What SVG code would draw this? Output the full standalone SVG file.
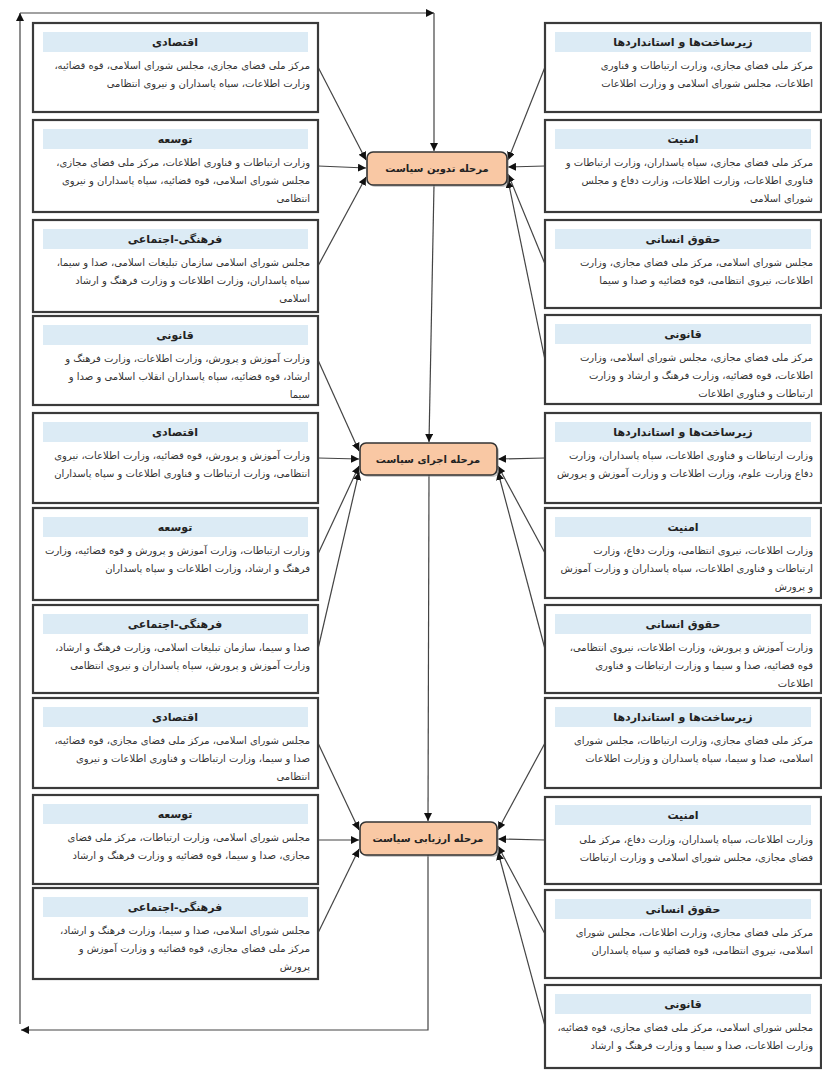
<svg xmlns="http://www.w3.org/2000/svg" width="822" height="1072" viewBox="0 0 822 1072">
<style>
.box{fill:#fff;stroke:#3a3a3a;stroke-width:2.2}
.tb{fill:#dcebf5}
.tt{font-family:"DejaVu Sans",sans-serif;font-size:11px;font-weight:bold;text-anchor:middle;fill:#222}
.bt{font-family:"DejaVu Sans",sans-serif;font-size:10px;fill:#333;direction:rtl;text-anchor:start}
.node{fill:#f9c8a4;stroke:#333;stroke-width:1.6}
.nsh{fill:#999;opacity:.5}
.nt{font-family:"DejaVu Sans",sans-serif;font-size:10px;font-weight:bold;text-anchor:middle;fill:#222;direction:rtl}
.c{stroke:#444;stroke-width:1.2;fill:none;marker-end:url(#ah)}
</style>
<defs>
<marker id="ah" viewBox="0 0 10 10" refX="10" refY="5" markerWidth="8" markerHeight="8" markerUnits="userSpaceOnUse" orient="auto"><path d="M0,0 L10,5 L0,10 z" fill="#111"/></marker>
</defs>

<g id="connectors">
<path class="c" d="M318,67 L366,160"/>
<path class="c" d="M318,166 L366,168"/>
<path class="c" d="M318,266 L366,177"/>
<path class="c" d="M545,67 L508,160"/>
<path class="c" d="M545,166 L508,167"/>
<path class="c" d="M545,264 L508,174"/>
<path class="c" d="M545,360 L508,180"/>
<path class="c" d="M318,360 L359,451"/>
<path class="c" d="M318,458 L359,459"/>
<path class="c" d="M318,554 L359,466"/>
<path class="c" d="M318,649 L359,472"/>
<path class="c" d="M545,458 L498,459"/>
<path class="c" d="M545,553 L498,466"/>
<path class="c" d="M545,649 L498,472"/>
<path class="c" d="M318,743 L359,830"/>
<path class="c" d="M318,840 L359,840"/>
<path class="c" d="M318,933 L359,849"/>
<path class="c" d="M545,743 L498,830"/>
<path class="c" d="M545,840 L498,839"/>
<path class="c" d="M545,934 L498,846"/>
<path class="c" d="M545,1026 L498,852"/>
<path class="c" d="M434,185 L429,442"/>
<path class="c" d="M429,475 L428,821"/>
<path class="c" d="M428,855 L428,1030 L21,1030"/>
<path class="c" d="M20,1024 L20,13"/>
<path class="c" d="M20,13 L434,13"/>
<path class="c" d="M434,13 L434,151"/>
</g>

<g id="N1"><rect class="nsh" x="369" y="154" width="140" height="33" rx="6"/><rect class="node" x="367" y="152" width="140" height="33" rx="6"/><text class="nt" x="437" y="172">مرحله تدوین سیاست</text></g>
<g id="N2"><rect class="nsh" x="362" y="445" width="137" height="32" rx="6"/><rect class="node" x="360" y="443" width="137" height="32" rx="6"/><text class="nt" x="428" y="463">مرحله اجرای سیاست</text></g>
<g id="N3"><rect class="nsh" x="362" y="824" width="137" height="33" rx="6"/><rect class="node" x="360" y="822" width="137" height="33" rx="6"/><text class="nt" x="428" y="842">مرحله ارزیابی سیاست</text></g>

<g id="L1"><rect class="box" x="33" y="23" width="285" height="89"/><rect class="tb" x="43" y="32" width="265" height="20"/><text class="tt" x="175" y="46">اقتصادی</text>
<text class="bt" x="310" y="69">مرکز ملی فضای مجازی، مجلس شورای اسلامی، قوه قضائیه،</text>
<text class="bt" x="310" y="87">وزارت اطلاعات، سپاه پاسداران و نیروی انتظامی</text></g>

<g id="L2"><rect class="box" x="33" y="120" width="285" height="92"/><rect class="tb" x="43" y="129" width="265" height="20"/><text class="tt" x="175" y="143">توسعه</text>
<text class="bt" x="310" y="166">وزارت ارتباطات و فناوری اطلاعات، مرکز ملی فضای مجازی،</text>
<text class="bt" x="310" y="184">مجلس شورای اسلامی، قوه قضائیه، سپاه پاسداران و نیروی</text>
<text class="bt" x="310" y="202">انتظامی</text></g>

<g id="L3"><rect class="box" x="33" y="220" width="285" height="92"/><rect class="tb" x="43" y="229" width="265" height="20"/><text class="tt" x="175" y="243">فرهنگی-اجتماعی</text>
<text class="bt" x="310" y="266">مجلس شورای اسلامی سازمان تبلیغات اسلامی، صدا و سیما،</text>
<text class="bt" x="310" y="284">سپاه پاسداران، وزارت اطلاعات و وزارت فرهنگ و ارشاد</text>
<text class="bt" x="310" y="302">اسلامی</text></g>

<g id="L4"><rect class="box" x="33" y="316" width="285" height="89"/><rect class="tb" x="43" y="325" width="265" height="20"/><text class="tt" x="175" y="339">قانونی</text>
<text class="bt" x="310" y="362">وزارت آموزش و پرورش، وزارت اطلاعات، وزارت فرهنگ و</text>
<text class="bt" x="310" y="380">ارشاد، قوه قضائیه، سپاه پاسداران انقلاب اسلامی و صدا و</text>
<text class="bt" x="310" y="398">سیما</text></g>

<g id="L5"><rect class="box" x="33" y="413" width="285" height="90"/><rect class="tb" x="43" y="422" width="265" height="20"/><text class="tt" x="175" y="436">اقتصادی</text>
<text class="bt" x="310" y="459">وزارت آموزش و پرورش، قوه قضائیه، وزارت اطلاعات، نیروی</text>
<text class="bt" x="310" y="477">انتظامی، وزارت ارتباطات و فناوری اطلاعات و سپاه پاسداران</text></g>

<g id="L6"><rect class="box" x="33" y="508" width="285" height="92"/><rect class="tb" x="43" y="517" width="265" height="20"/><text class="tt" x="175" y="531">توسعه</text>
<text class="bt" x="310" y="554">وزارت ارتباطات، وزارت آموزش و پرورش و قوه قضائیه، وزارت</text>
<text class="bt" x="310" y="572">فرهنگ و ارشاد، وزارت اطلاعات و سپاه پاسداران</text></g>

<g id="L7"><rect class="box" x="33" y="605" width="285" height="88"/><rect class="tb" x="43" y="614" width="265" height="20"/><text class="tt" x="175" y="628">فرهنگی-اجتماعی</text>
<text class="bt" x="310" y="651">صدا و سیما، سازمان تبلیغات اسلامی، وزارت فرهنگ و ارشاد،</text>
<text class="bt" x="310" y="669">وزارت آموزش و پرورش، سپاه پاسداران و نیروی انتظامی</text></g>

<g id="L8"><rect class="box" x="33" y="698" width="285" height="90"/><rect class="tb" x="43" y="707" width="265" height="20"/><text class="tt" x="175" y="721">اقتصادی</text>
<text class="bt" x="310" y="744">مجلس شورای اسلامی، مرکز ملی فضای مجازی، قوه قضائیه،</text>
<text class="bt" x="310" y="762">صدا و سیما، وزارت ارتباطات و فناوری اطلاعات و نیروی</text>
<text class="bt" x="310" y="780">انتظامی</text></g>

<g id="L9"><rect class="box" x="33" y="795" width="285" height="89"/><rect class="tb" x="43" y="804" width="265" height="20"/><text class="tt" x="175" y="818">توسعه</text>
<text class="bt" x="310" y="841">مجلس شورای اسلامی، وزارت ارتباطات، مرکز ملی فضای</text>
<text class="bt" x="310" y="859">مجازی، صدا و سیما، قوه قضائیه و وزارت فرهنگ و ارشاد</text></g>

<g id="L10"><rect class="box" x="33" y="888" width="285" height="91"/><rect class="tb" x="43" y="897" width="265" height="20"/><text class="tt" x="175" y="911">فرهنگی-اجتماعی</text>
<text class="bt" x="310" y="934">مجلس شورای اسلامی، صدا و سیما، وزارت فرهنگ و ارشاد،</text>
<text class="bt" x="310" y="952">مرکز ملی فضای مجازی، قوه قضائیه و وزارت آموزش و</text>
<text class="bt" x="310" y="970">پرورش</text></g>

<g id="R1"><rect class="box" x="545" y="23" width="276" height="89"/><rect class="tb" x="555" y="32" width="256" height="20"/><text class="tt" x="683" y="46">زیرساخت‌ها و استانداردها</text>
<text class="bt" x="813" y="69">مرکز ملی فضای مجازی، وزارت ارتباطات و فناوری</text>
<text class="bt" x="813" y="87">اطلاعات، مجلس شورای اسلامی و وزارت اطلاعات</text></g>

<g id="R2"><rect class="box" x="545" y="120" width="276" height="92"/><rect class="tb" x="555" y="129" width="256" height="20"/><text class="tt" x="683" y="143">امنیت</text>
<text class="bt" x="813" y="166">مرکز ملی فضای مجازی، سپاه پاسداران، وزارت ارتباطات و</text>
<text class="bt" x="813" y="184">فناوری اطلاعات، وزارت اطلاعات، وزارت دفاع و مجلس</text>
<text class="bt" x="813" y="202">شورای اسلامی</text></g>

<g id="R3"><rect class="box" x="545" y="220" width="276" height="88"/><rect class="tb" x="555" y="229" width="256" height="20"/><text class="tt" x="683" y="243">حقوق انسانی</text>
<text class="bt" x="813" y="266">مجلس شورای اسلامی، مرکز ملی فضای مجازی، وزارت</text>
<text class="bt" x="813" y="284">اطلاعات، نیروی انتظامی، قوه قضائیه و صدا و سیما</text></g>

<g id="R4"><rect class="box" x="545" y="315" width="276" height="89"/><rect class="tb" x="555" y="324" width="256" height="20"/><text class="tt" x="683" y="338">قانونی</text>
<text class="bt" x="813" y="361">مرکز ملی فضای مجازی، مجلس شورای اسلامی، وزارت</text>
<text class="bt" x="813" y="379">اطلاعات، قوه قضائیه، وزارت فرهنگ و ارشاد و وزارت</text>
<text class="bt" x="813" y="397">ارتباطات و فناوری اطلاعات</text></g>

<g id="R5"><rect class="box" x="545" y="413" width="276" height="90"/><rect class="tb" x="555" y="422" width="256" height="20"/><text class="tt" x="683" y="436">زیرساخت‌ها و استانداردها</text>
<text class="bt" x="813" y="459">وزارت ارتباطات و فناوری اطلاعات، سپاه پاسداران، وزارت</text>
<text class="bt" x="813" y="477">دفاع وزارت علوم، وزارت اطلاعات و وزارت آموزش و پرورش</text></g>

<g id="R6"><rect class="box" x="545" y="508" width="276" height="90"/><rect class="tb" x="555" y="517" width="256" height="20"/><text class="tt" x="683" y="531">امنیت</text>
<text class="bt" x="813" y="554">وزارت اطلاعات، نیروی انتظامی، وزارت دفاع، وزارت</text>
<text class="bt" x="813" y="572">ارتباطات و فناوری اطلاعات، سپاه پاسداران و وزارت آموزش</text>
<text class="bt" x="813" y="590">و پرورش</text></g>

<g id="R7"><rect class="box" x="545" y="605" width="276" height="88"/><rect class="tb" x="555" y="614" width="256" height="20"/><text class="tt" x="683" y="628">حقوق انسانی</text>
<text class="bt" x="813" y="651">وزارت آموزش و پرورش، وزارت اطلاعات، نیروی انتظامی،</text>
<text class="bt" x="813" y="669">قوه قضائیه، صدا و سیما و وزارت ارتباطات و فناوری</text>
<text class="bt" x="813" y="687">اطلاعات</text></g>

<g id="R8"><rect class="box" x="545" y="698" width="276" height="90"/><rect class="tb" x="555" y="707" width="256" height="20"/><text class="tt" x="683" y="721">زیرساخت‌ها و استانداردها</text>
<text class="bt" x="813" y="744">مرکز ملی فضای مجازی، وزارت ارتباطات، مجلس شورای</text>
<text class="bt" x="813" y="762">اسلامی، صدا و سیما، سپاه پاسداران و وزارت اطلاعات</text></g>

<g id="R9"><rect class="box" x="545" y="797" width="276" height="87"/><rect class="tb" x="555" y="805" width="256" height="20"/><text class="tt" x="683" y="819">امنیت</text>
<text class="bt" x="813" y="843">وزارت اطلاعات، سپاه پاسداران، وزارت دفاع، مرکز ملی</text>
<text class="bt" x="813" y="861">فضای مجازی، مجلس شورای اسلامی و وزارت ارتباطات</text></g>

<g id="R10"><rect class="box" x="545" y="890" width="276" height="88"/><rect class="tb" x="555" y="899" width="256" height="20"/><text class="tt" x="683" y="913">حقوق انسانی</text>
<text class="bt" x="813" y="936">مرکز ملی فضای مجازی، وزارت اطلاعات، مجلس شورای</text>
<text class="bt" x="813" y="954">اسلامی، نیروی انتظامی، قوه قضائیه و سپاه پاسداران</text></g>

<g id="R11"><rect class="box" x="545" y="985" width="276" height="83"/><rect class="tb" x="555" y="994" width="256" height="20"/><text class="tt" x="683" y="1008">قانونی</text>
<text class="bt" x="813" y="1031">مجلس شورای اسلامی، مرکز ملی فضای مجازی، قوه قضائیه،</text>
<text class="bt" x="813" y="1049">وزارت اطلاعات،  صدا و سیما  و وزارت فرهنگ و ارشاد</text></g>
</svg>
